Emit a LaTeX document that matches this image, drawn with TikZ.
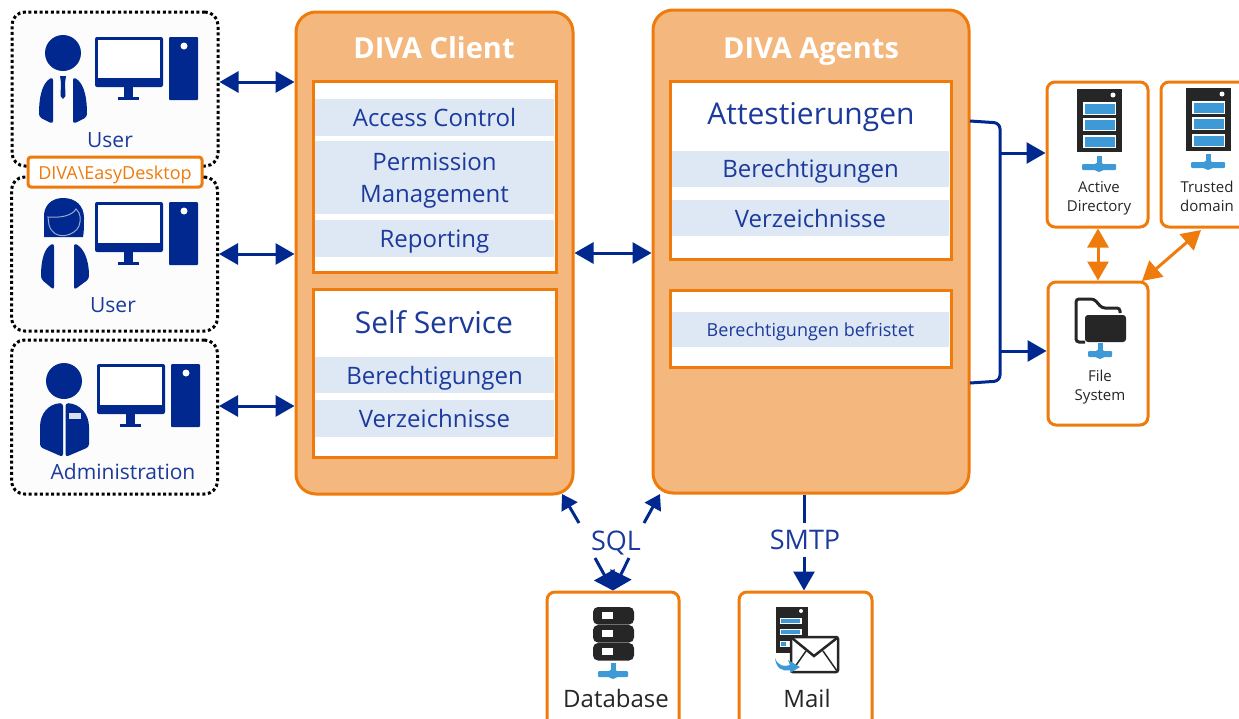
\documentclass[tikz,border=0pt]{standalone}
\usepackage{fontspec}
\setmainfont{Open Sans}
\usetikzlibrary{arrows.meta}
\definecolor{divablue}{HTML}{00288F}
\definecolor{divatext}{HTML}{1C3A9C}
\definecolor{divaorange}{HTML}{EE7B0C}
\definecolor{divapanel}{HTML}{F4B77D}
\definecolor{divaband}{HTML}{DEE8F4}
\definecolor{divadark}{HTML}{262626}
\definecolor{divasky}{HTML}{3E9AD6}
\newcommand*{\fs}[1]{\fontsize{#1}{\the\dimexpr #1pt*13/10\relax}\selectfont}
\newcommand*{\pc}[2]{%
\begin{scope}[shift={(#1,#2)}]
\fill[divablue,rounded corners=2pt] (0,0) rectangle (68,50);
\fill[white] (3,3) rectangle (65,41);
\fill[divablue] (29,50) rectangle (38,60);
\fill[divablue] (23,60) rectangle (44,63);
\fill[divablue,rounded corners=1pt] (74,0) rectangle (103,63);
\fill[white] (89,9) circle[radius=3.5pt];
\end{scope}}
\newcommand*{\net}[3]{%
\fill[divasky] (#1-2.5,#2-11) rectangle (#1+2.5,#2);
\fill[divasky,rounded corners=1pt] (#1-#3,#2-3) rectangle (#1+#3,#2+3);
\fill[divasky] (#1,#2) circle[radius=5pt];}
\newcommand*{\rack}[2]{%
\begin{scope}[shift={(#1,#2)}]
\fill[divadark] (0,0) rectangle (45,63);
\fill[white] (36,6) circle[radius=2.5pt];
\foreach \y in {13,29,46} {
\fill[white] (6,\y) rectangle (39,\y+13);
\fill[divasky] (7.5,\y+1.5) rectangle (37.5,\y+11.5);
}
\end{scope}}
\tikzset{
userbox/.style={draw=black,fill=black!1,line width=3pt,rounded corners=13pt,dash pattern=on 3pt off 2.6pt,minimum width=206pt,minimum height=154pt,inner sep=0pt},
panel/.style={draw=divaorange,fill=divapanel,line width=3pt,rounded corners=20pt,inner sep=0pt},
inner/.style={draw=divaorange,fill=white,line width=3pt,inner sep=0pt},
band/.style={fill=divaband,text=divatext,inner sep=0pt,align=center},
bandtext/.style={text height=24pt,text depth=6pt},
hostbox/.style={draw=divaorange,fill=white,line width=3pt,rounded corners=8pt,inner sep=0pt},
title/.style={text=white,font=\fs{29}\bfseries},
label/.style={text=divatext,inner sep=0pt},
hostlabel/.style={text=divadark,inner sep=0pt,align=center},
link/.style={draw=divablue,line width=3pt,{Triangle[length=19pt,width=21pt]}-{Triangle[length=19pt,width=21pt]}},
oneway/.style={draw=divablue,line width=3pt,-{Triangle[length=19pt,width=21pt]}},
sqlway/.style={draw=divablue,line width=3pt,-{Triangle[length=15pt,width=18pt]}},
dbway/.style={draw=divablue,line width=3pt,-{Triangle[length=18pt,width=23pt]}},
plain/.style={draw=divablue,line width=3pt},
trust/.style={draw=divaorange,line width=3pt,{Triangle[length=19pt,width=21pt]}-{Triangle[length=19pt,width=21pt]}}
}
\begin{document}
\begin{tikzpicture}[x=1pt,y=-1pt]
\useasboundingbox (0,0) rectangle (1239,718);

\node[userbox] (usera) at (115,89) {};
\node[userbox] (userb) at (114.5,254) {};
\node[userbox] (admin) at (114.5,417) {};

\node[panel,minimum width=277pt,minimum height=482pt] (client) at (434.5,253) {};
\node[panel,minimum width=316pt,minimum height=483pt] (agents) at (811,251.5) {};

\node[title] (clienttitle) at (434,48) {DIVA Client};
\node[title] (agentstitle) at (811,51.5) {DIVA Agents};

\node[inner,minimum width=243pt,minimum height=191pt] (clienttop) at (434.5,176.5) {};
\node[inner,minimum width=243pt,minimum height=168pt] (clientlow) at (434.5,373) {};
\node[inner,minimum width=281pt,minimum height=178pt] (agentstop) at (810.5,170) {};
\node[inner,minimum width=281pt,minimum height=77pt] (agentslow) at (810.5,328.5) {};

\node[band,bandtext,minimum width=239pt,minimum height=37pt,font=\fs{24}] (access) at (434.5,117.5) {Access Control};
\node[band,text depth=0pt,minimum width=239pt,minimum height=73pt,font=\fs{24}] (perm) at (434.5,177.5) {Permission\\[1pt]Management};
\node[band,bandtext,minimum width=239pt,minimum height=37pt,font=\fs{24}] (report) at (434.5,238.5) {Reporting};
\node[label,font=\fs{30}] (selfservice) at (434,322) {Self Service};
\node[band,bandtext,minimum width=239pt,minimum height=36pt,font=\fs{24}] (rightsa) at (434.5,375) {Berechtigungen};
\node[band,bandtext,minimum width=239pt,minimum height=37pt,font=\fs{24}] (dirsa) at (434.5,418.5) {Verzeichnisse};

\node[label,font=\fs{30}] (attest) at (811,117) {Attestierungen};
\node[band,text height=22pt,text depth=6pt,minimum width=277pt,minimum height=36pt,font=\fs{24}] (rightsb) at (810.5,169) {Berechtigungen};
\node[band,bandtext,minimum width=277pt,minimum height=36pt,font=\fs{24}] (dirsb) at (810.5,218) {Verzeichnisse};
\node[band,text height=18pt,text depth=5pt,minimum width=277pt,minimum height=35pt,font=\fs{18}] (limited) at (810.5,329.5) {Berechtigungen befristet};

\node[hostbox,minimum width=101pt,minimum height=145pt] (ad) at (1097.5,154.5) {};
\node[hostbox,minimum width=101pt,minimum height=145pt] (trusted) at (1211.5,154.5) {};
\node[hostbox,minimum width=100pt,minimum height=143pt] (files) at (1098,353.5) {};
\node[hostbox,minimum width=132pt,minimum height=140pt] (db) at (613,662) {};
\node[hostbox,minimum width=133pt,minimum height=140pt] (mail) at (805.5,662) {};

\pc{95}{37}
\pc{95}{202}
\pc{97}{364}

\fill[divablue] (63,53) circle[radius=18pt];
\fill[divablue,rounded corners=3pt] (53,77) .. controls (44,82) and (39,92) .. (39,117) -- (53,124) -- cycle;
\fill[divablue,rounded corners=3pt] (73,77) .. controls (82,82) and (87,92) .. (87,117) -- (73,124) -- cycle;
\fill[divablue] (60,76) -- (66,76) -- (65,83) -- (65.5,96) -- (63,99) -- (60.5,96) -- (61,83) -- cycle;

\fill[divablue] (63,198) .. controls (76,198) and (84,206) .. (84,218) .. controls (84,226) and (84,232) .. (83,237) -- (44,237) .. controls (44,230) and (44,224) .. (44,216) .. controls (44,206) and (51,198) .. (63,198) -- cycle;
\draw[white!60!divablue,line width=1pt] (48,217) .. controls (60,218) and (72,216) .. (76,209) .. controls (81,213) and (81,220) .. (79,226) .. controls (75,236) and (54,242) .. (49,225) -- cycle;
\fill[divablue,rounded corners=3pt] (54,243) .. controls (45,248) and (41,258) .. (41,279) -- (54,290) -- cycle;
\fill[divablue,rounded corners=3pt] (74,243) .. controls (83,248) and (89,258) .. (89,279) -- (74,290) -- cycle;

\fill[divablue] (64,381) circle[radius=18pt];
\fill[divablue,rounded corners=3pt] (63,403) .. controls (48,404) and (40,414) .. (40,430) -- (40,447) -- (63,457) -- cycle;
\fill[divablue,rounded corners=3pt] (65.5,403) .. controls (80,404) and (89,414) .. (89,430) -- (89,447) -- (65.5,457) -- cycle;
\fill[white!85!divablue] (69,413) rectangle (81,419);

\node[label,font=\fs{21}] (usertexta) at (110,140) {User};
\node[label,font=\fs{21}] (usertextb) at (113,305) {User};
\node[label,font=\fs{21}] (admintext) at (123,472) {Administration};

\node[draw=divaorange,fill=white,line width=3pt,rounded corners=3pt,minimum width=174pt,minimum height=30pt,inner sep=0pt,text=divaorange,text height=19pt,text depth=5pt,font=\fs{18}] (desktop) at (115,172) {DIVA\textbackslash EasyDesktop};

\rack{1077}{89}
\rack{1186}{88}
\net{1099}{167}{17}
\net{1208}{165}{17}

\fill[divadark,rounded corners=3pt] (1085,315) rectangle (1126,342);
\draw[divadark,line width=3pt,rounded corners=3pt] (1085,342) -- (1076,342) -- (1076,299) -- (1094,299) -- (1102,308) -- (1120,308) -- (1120,313);
\net{1100}{354}{12}

\foreach \y in {607,625,643} {
\fill[divadark,rounded corners=5pt] (593,\y) rectangle (634,\y+17.5);
\fill[white] (602,\y+5) rectangle (613,\y+12);
}
\net{613}{674}{15}

\fill[divadark] (776,607) rectangle (808,653);
\fill[white] (801,611) circle[radius=2pt];
\fill[white] (780,618) rectangle (802,624);
\fill[white] (780,629) rectangle (802,635);
\fill[white] (780,641) rectangle (792,647);
\fill[divasky] (781,619) rectangle (800,623);
\fill[divasky] (781,630) rectangle (800,634);
\fill[divasky] (781,642) rectangle (786,646);
\draw[divadark,fill=white,line width=2.5pt,rounded corners=2pt] (791,637) rectangle (838,672);
\draw[divadark,line width=2.5pt] (792,638) -- (814,656) -- (837,638);
\draw[divadark,line width=1.5pt] (792,671) -- (806,651);
\draw[divadark,line width=1.5pt] (837,671) -- (823,651);
\fill[divasky] (775,658) .. controls (778,666) and (784,667) .. (790,665) -- (788,660) -- (800,667) -- (790,673) -- (790,670) .. controls (782,672) and (776,668) .. (775,658) -- cycle;

\node[hostlabel,font=\fs{15}] (adtext) at (1099,198.5) {Active\\Directory};
\node[hostlabel,font=\fs{15}] (trustedtext) at (1207,196.5) {Trusted\\domain};
\node[hostlabel,font=\fs{15}] (filestext) at (1100,387) {File\\System};
\node[hostlabel,font=\fs{24}] (dbtext) at (616,698) {Database};
\node[hostlabel,font=\fs{24}] (mailtext) at (807,698) {Mail};

\node[label,font=\fs{27}] (sql) at (616,543) {SQL};
\node[label,font=\fs{27}] (smtp) at (805,540) {SMTP};

\draw[link] ([yshift=7pt]usera.east) -- ([yshift=7pt]usera.east -| client.west);
\draw[link] (userb.east) -- (userb.east -| client.west);
\draw[link] ([yshift=11pt]admin.east) -- ([yshift=11pt]admin.east -| client.west);
\draw[link] (client.east) -- (client.east -| agents.west);

\coordinate (sqlupa) at (579,523);
\coordinate (sqlupb) at (644,523);
\coordinate (sqldowna) at (595,558);
\coordinate (sqldownb) at (629,558);
\coordinate (smtpup) at (804,523);
\coordinate (smtpdown) at (804,557);
\coordinate (sqltipa) at (562,494);
\coordinate (sqltipb) at (660,494);
\draw[sqlway] (sqlupa) -- (sqltipa);
\draw[sqlway] (sqlupb) -- (sqltipb);
\draw[dbway] (sqldowna) -- (db.north);
\draw[dbway] (sqldownb) -- (db.north);
\draw[plain] (agents.south -| smtpup) -- (smtpup);
\draw[oneway] (smtpdown) -- (mail.north -| smtpdown);

\coordinate (bracea) at (1000,153);
\coordinate (braceb) at (1000,351);
\draw[plain,rounded corners=6pt] (970,121) -- (1000,123) -- (1000,381) -- (970,383);
\draw[oneway] (bracea) -- (bracea -| ad.west);
\draw[oneway] (braceb) -- (braceb -| files.west);

\coordinate (trusttip) at (1201,230);
\coordinate (filestip) at (1142,281);
\draw[trust] (ad.south -| files.north) -- (files.north);
\draw[trust] (trusttip) -- (filestip);
\end{tikzpicture}
\end{document}
